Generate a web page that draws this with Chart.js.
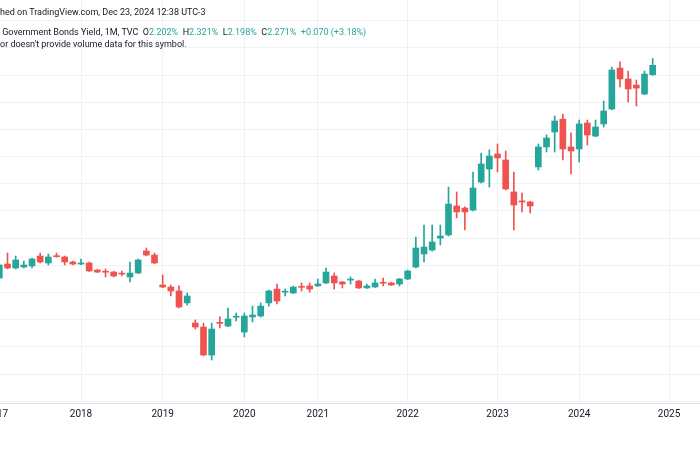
<!DOCTYPE html>
<html>
<head>
<meta charset="utf-8">
<script src="https://cdn.jsdelivr.net/npm/chart.js@4.4.1/dist/chart.umd.min.js"></script>
<style>
  html, body { margin: 0; padding: 0; width: 700px; height: 450px; overflow: hidden; background: #fff; }
  body { position: relative; font-family: Roboto, "Liberation Sans", sans-serif; }
  #wrap { position: absolute; left: -40px; top: 0; width: 800px; height: 425px; }
  .hdr { position: absolute; left: 0; font-size: 9px; line-height: 11px; color: #131722; white-space: nowrap; }
  .up { color: #26a69a; }
</style>
</head>
<body>
<div id="wrap"><canvas id="chart"></canvas></div>
<div class="hdr" style="top:7px">hed on TradingView.com, Dec 23, 2024 12:38 UTC-3</div>
<div class="hdr" style="top:27px">&nbsp;Government Bonds Yield, 1M, TVC&nbsp; O<span class="up">2.202%</span>&nbsp; H<span class="up">2.321%</span>&nbsp; L<span class="up">2.198%</span>&nbsp; C<span class="up">2.271%</span>&nbsp; <span class="up">+0.070 (+3.18%)</span></div>
<div class="hdr" style="top:39px">or doesn't provide volume data for this symbol.</div>
<script>
// monthly candles, yield in %
const opens = [0.707, 0.810, 0.781, 0.788, 0.796, 0.869, 0.818, 0.868, 0.862, 0.825,
  0.810, 0.818, 0.766, 0.753, 0.751, 0.739, 0.715, 0.744, 0.906, 0.876,
  0.656, 0.641, 0.612, 0.524, 0.376, 0.347, 0.141, 0.378, 0.354, 0.419,
  0.310, 0.421, 0.428, 0.524, 0.626, 0.603, 0.597, 0.643, 0.649, 0.649,
  0.671, 0.722, 0.678, 0.692, 0.685, 0.634, 0.641, 0.672, 0.671, 0.663,
  0.700, 0.788, 0.884, 0.913, 1.001, 1.024, 1.237, 1.222, 1.207, 1.413,
  1.509, 1.619, 1.575, 1.340, 1.274, 1.266, 1.524, 1.671, 1.781, 1.876,
  1.671, 1.656, 1.847, 1.751, 1.840, 1.950, 2.251, 2.171, 2.126, 2.060,
  2.202];
const highs = [0.810, 0.891, 0.869, 0.832, 0.854, 0.891, 0.884, 0.891, 0.869, 0.832,
  0.847, 0.825, 0.770, 0.774, 0.758, 0.759, 0.825, 0.847, 0.928, 0.891,
  0.729, 0.656, 0.649, 0.597, 0.399, 0.376, 0.376, 0.421, 0.487, 0.450,
  0.450, 0.501, 0.524, 0.619, 0.663, 0.626, 0.648, 0.671, 0.671, 0.700,
  0.781, 0.744, 0.683, 0.715, 0.690, 0.663, 0.700, 0.707, 0.676, 0.705,
  0.766, 1.009, 1.097, 1.097, 1.097, 1.376, 1.340, 1.230, 1.487, 1.626,
  1.649, 1.693, 1.641, 1.487, 1.332, 1.272, 1.693, 1.759, 1.899, 1.913,
  1.774, 1.869, 1.869, 1.869, 2.009, 2.259, 2.296, 2.229, 2.163, 2.229,
  2.321];
const lows = [0.700, 0.774, 0.774, 0.781, 0.781, 0.818, 0.803, 0.860, 0.803, 0.803,
  0.805, 0.755, 0.746, 0.715, 0.715, 0.722, 0.678, 0.740, 0.870, 0.812,
  0.636, 0.575, 0.487, 0.509, 0.332, 0.135, 0.104, 0.340, 0.350, 0.391,
  0.274, 0.384, 0.420, 0.501, 0.516, 0.575, 0.593, 0.612, 0.604, 0.645,
  0.666, 0.626, 0.634, 0.663, 0.630, 0.630, 0.638, 0.649, 0.652, 0.649,
  0.695, 0.781, 0.825, 0.905, 0.950, 1.016, 1.149, 1.060, 1.200, 1.406,
  1.376, 1.487, 1.355, 1.060, 1.193, 1.185, 1.501, 1.634, 1.634, 1.575,
  1.472, 1.560, 1.685, 1.745, 1.818, 1.945, 2.112, 2.001, 1.972, 2.055,
  2.198];
const closes = [0.803, 0.781, 0.840, 0.803, 0.847, 0.825, 0.862, 0.864, 0.825, 0.810,
  0.818, 0.759, 0.751, 0.750, 0.722, 0.736, 0.744, 0.840, 0.876, 0.818,
  0.641, 0.612, 0.494, 0.575, 0.347, 0.141, 0.332, 0.374, 0.406, 0.422,
  0.428, 0.435, 0.501, 0.612, 0.538, 0.606, 0.641, 0.639, 0.626, 0.663,
  0.751, 0.671, 0.663, 0.695, 0.634, 0.649, 0.671, 0.669, 0.656, 0.700,
  0.759, 0.928, 0.935, 0.972, 1.016, 1.251, 1.193, 1.193, 1.369, 1.546,
  1.604, 1.590, 1.362, 1.244, 1.266, 1.237, 1.671, 1.737, 1.862, 1.656,
  1.641, 1.840, 1.759, 1.818, 1.935, 2.237, 2.171, 2.097, 2.104, 2.207,
  2.271];

// time axis labels and the bar where each one sits
const yearLabels = ['2017', '2018', '2019', '2020', '2021', '2022', '2023', '2024', '2025'];
const yearBars = [-0.3, 10, 20, 30, 39, 50, 61, 71, 82];

const UP = '#26a69a';
const DOWN = '#ef5350';
const colors = closes.map((c, i) => c >= opens[i] ? UP : DOWN);
const gridColor = '#f0f1f4';

const ctx = document.getElementById('chart').getContext('2d');
const chart = new Chart(ctx, {
    type: 'bar',
    data: {
        datasets: [{
            label: 'wick',
            data: lows.map((l, i) => ({ x: i, y: [l, highs[i]] })),
            backgroundColor: colors,
            barThickness: 1,
            grouped: false,
            order: 2
        }, {
            label: 'body',
            data: opens.map((o, i) => ({ x: i, y: [o, closes[i]] })),
            backgroundColor: colors,
            barThickness: 6,
            minBarLength: 1,
            grouped: false,
            order: 1
        }]
    },
    options: {
        responsive: true,
        maintainAspectRatio: false,
        animation: false,
        layout: { padding: 0 },
        plugins: {
            legend: { display: false },
            tooltip: { enabled: false }
        },
        scales: {
            x: {
                type: 'linear',
                min: -4.816,
                max: 93.14,
                offset: false,
                grid: { offset: false, color: gridColor, drawTicks: false },
                border: { color: '#e0e3eb' },
                afterBuildTicks: (axis) => {
                    axis.ticks = yearBars.map(v => ({ value: v }));
                },
                afterFit: (axis) => { axis.height = 22; },
                ticks: {
                    autoSkip: false,
                    maxRotation: 0,
                    padding: 5,
                    color: '#131722',
                    font: { size: 10, family: 'Roboto' },
                    callback: (v, i) => yearLabels[i]
                }
            },
            y: {
                type: 'linear',
                position: 'right',
                min: -0.2118,
                max: 2.7515,
                grid: { color: gridColor, drawTicks: false },
                border: { display: false },
                afterFit: (axis) => { axis.width = 0; },
                ticks: { display: false, stepSize: 0.2, includeBounds: false }
            }
        }
    }
});
</script>
</body>
</html>
